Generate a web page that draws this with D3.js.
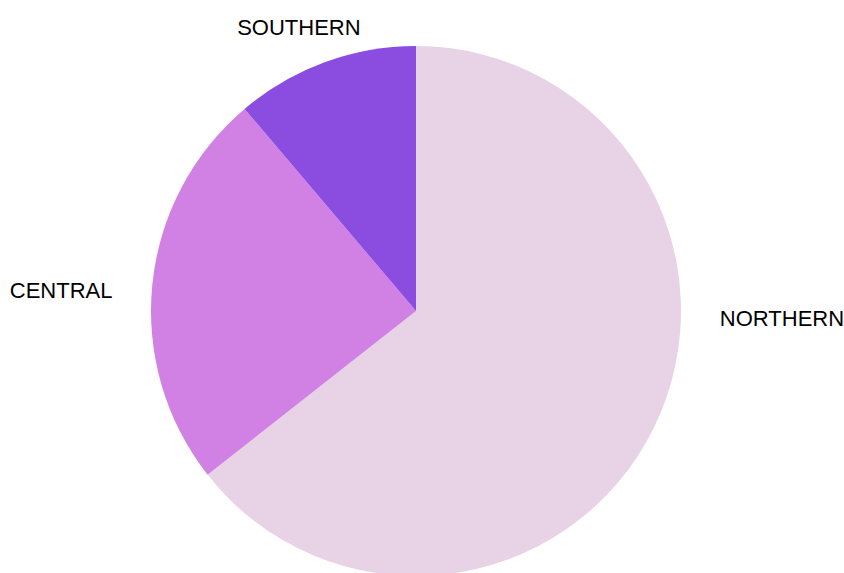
<!DOCTYPE html>
<html>
<head>
<meta charset="utf-8">
<script src="https://cdn.jsdelivr.net/npm/d3@7"></script>
<style>
    html, body { margin: 0; padding: 0; background: #fff; overflow: hidden; }
    svg { display: block; }
</style>
</head>
<body>
<div id="chart"></div>
<script>
// data
const regions = ["NORTHERN", "CENTRAL", "SOUTHERN"];
const shares = [64.4, 24.4, 11.2];
const colors = ["#e7d3e5", "#d181e4", "#8b4de0"];

const width = 844, height = 573;
const cx = 416, cy = 311, radius = 265;
const labelRadius = 304;

const svg = d3.select("#chart").append("svg")
    .attr("width", width)
    .attr("height", height);

const g = svg.append("g").attr("transform", `translate(${cx},${cy})`);

const color = d3.scaleOrdinal().domain(regions).range(colors);

const pie = d3.pie()
    .value(d => d.value)
    .sort((a, b) => b.value - a.value);

const arc = d3.arc().innerRadius(0).outerRadius(radius);

const rows = regions.map((r, i) => ({ name: r, value: shares[i] }));
const arcs = pie(rows);

g.selectAll("path")
    .data(arcs)
    .enter().append("path")
    .attr("d", arc)
    .attr("fill", d => color(d.data.name));

// label angle: mid angle, kept near horizontal on the sides
function labelAngle(d) {
    let a = (d.startAngle + d.endAngle) / 2 - 2.5 * Math.PI / 180;
    const lim = 92 * Math.PI / 180;
    if (a > lim && a < Math.PI) a = lim;
    if (a >= Math.PI && a < 2 * Math.PI - lim) a = 2 * Math.PI - lim;
    return a;
}

g.selectAll("text")
    .data(arcs)
    .enter().append("text")
    .attr("font-family", "'Liberation Sans', Arial, Helvetica, sans-serif")
    .attr("font-size", 22)
    .attr("fill", "#000")
    .each(function (d) {
        const a = labelAngle(d);
        const s = Math.sin(a);
        d3.select(this)
            .attr("x", labelRadius * s)
            .attr("y", -labelRadius * Math.cos(a))
            .attr("dy", "0.2em")
            .attr("text-anchor", s > 0.5 ? "start" : s < -0.5 ? "end" : "middle")
            .text(d.data.name);
    });
</script>
</body>
</html>
